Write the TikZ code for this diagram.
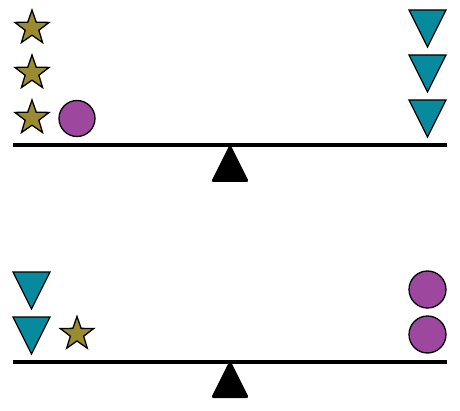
\documentclass[tikz,border=0pt]{standalone}
\usepackage{tikz}
\usetikzlibrary{shapes.geometric}

\definecolor{stargold}{RGB}{154,138,48}
\definecolor{triteal}{RGB}{8,138,158}
\definecolor{ballpurple}{RGB}{158,71,158}

\begin{document}
\begin{tikzpicture}[
  x=1pt, y=1pt,
  starbox/.style={
    star, star points=5, star point ratio=2.5, draw=black,
    fill=stargold, minimum size=36pt, inner sep=0pt, outer sep=0pt,
    line width=1.3pt
  },
  ballbox/.style={
    circle, draw=black, fill=ballpurple, minimum size=36pt,
    inner sep=0pt, outer sep=0pt, line width=1.3pt
  },
  tribox/.style={draw=black, fill=triteal, line width=1.3pt},
  beam/.style={line width=4pt, draw=black},
  pivot/.style={fill=black, rounded corners=2.5pt},
  wedge/.pic={\draw[tribox] (-18.5,0) -- (18.5,0) -- (0,-37) -- cycle;}
]
\useasboundingbox (0,0) rectangle (460,410);

% upper seesaw
\foreach \y [count=\i] in {382,337,292}
  \node[starbox] (s\i) at (32,\y) {};
\node[ballbox] (b1) at (77,291.5) {};
\foreach \y [count=\i] in {400,355,310}
  \pic (t\i) at (427.5,\y) {wedge};
\coordinate (beamAL) at (13,264.5);
\coordinate (beamAR) at (447,264.5);
\draw[beam] (beamAL) -- (beamAR);
\fill[pivot] (230,266) -- (249,228) -- (211,228) -- cycle;

% lower seesaw
\foreach \y [count=\i] in {138,93}
  \pic (u\i) at (31.5,\y) {wedge};
\node[starbox, minimum size=35pt] (s4) at (77,76) {};
\foreach \y [count=\i] in {120.5,75.5}
  \node[ballbox, minimum size=37pt] (c\i) at (427.5,\y) {};
\coordinate (beamBL) at (13,48);
\coordinate (beamBR) at (447,48);
\draw[beam] (beamBL) -- (beamBR);
\fill[pivot] (230,50) -- (249,12) -- (211,12) -- cycle;
\end{tikzpicture}
\end{document}
